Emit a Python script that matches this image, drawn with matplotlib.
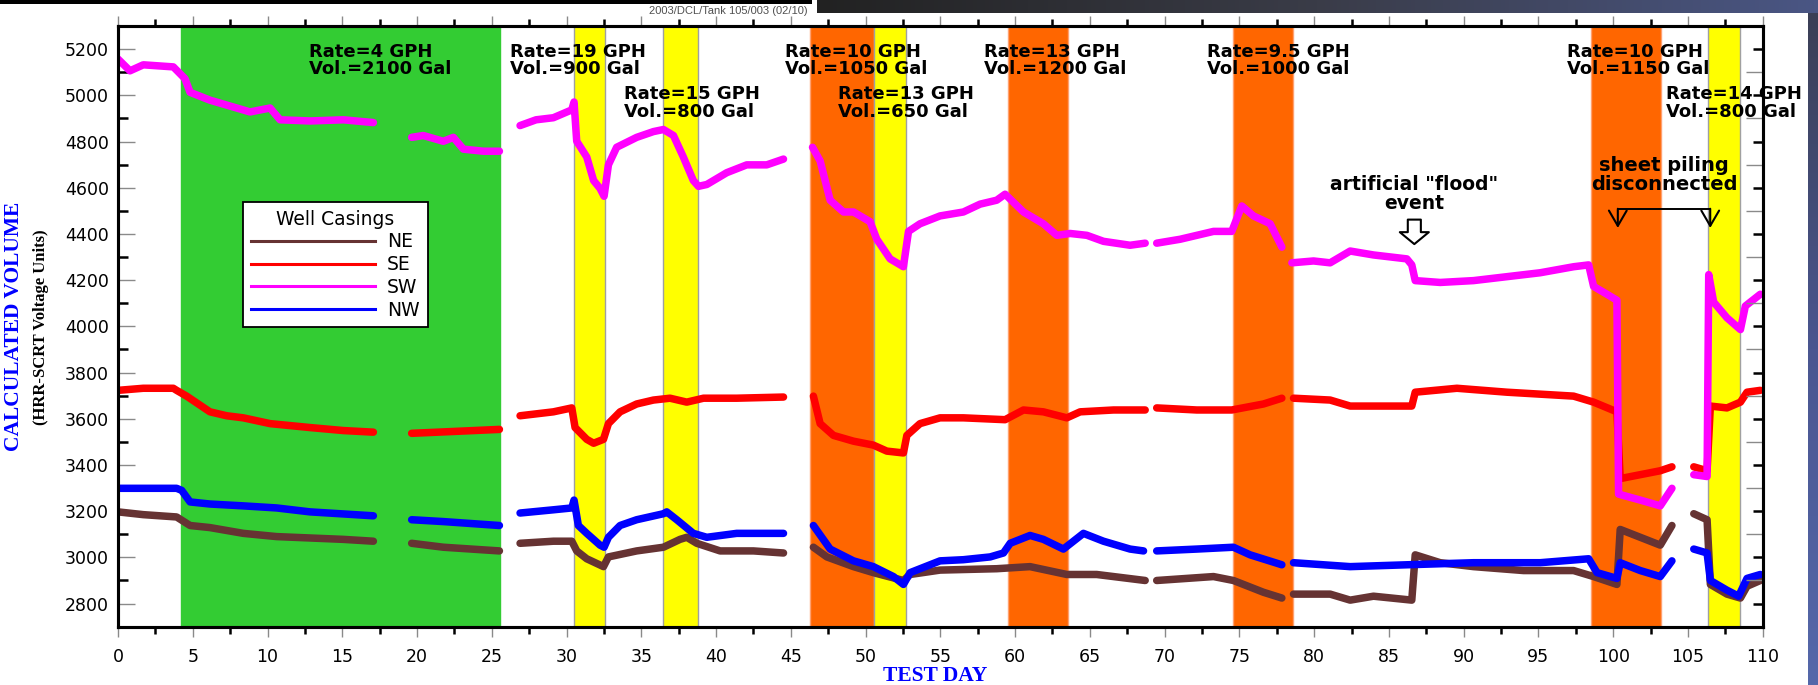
import numpy as np
import matplotlib
matplotlib.use("Agg")
import matplotlib.pyplot as plt
from matplotlib.lines import Line2D
from matplotlib.patches import Rectangle
from matplotlib.ticker import FixedLocator, NullFormatter
from matplotlib.colors import LinearSegmentedColormap

nan = np.nan

# ---------------- data ----------------
ne_day = [0, 1.69, 3.92, 4.82, 6.15, 8.38, 10.61, 12.84, 15.07, 17.08, nan,
          19.64, 21.76, 25.51, nan,
          26.89, 29.12, 30.35, 30.68, 31.35, 32.47, 32.80, 34.69, 36.48, 37.59, 38.04, 38.71, 40.27, 42.50, 44.51, nan,
          46.51, 47.41, 49.19, 50.52, 52.53, 52.98, 54.98, 58.77, 61.00, 63.46, 65.46, 68.70, nan,
          69.47, 73.27, 74.60, 76.61, 77.84, nan,
          78.62, 81.07, 82.41, 83.97, 86.53, 86.76, 88.43, 90.66, 94.01, 97.35, 98.69, 100.25, 100.47, 101.81, 103.15, 103.93, nan,
          105.39, 106.28, 106.50, 107.61, 108.51, 108.95, 109.84]
ne_val = [3197, 3185, 3175, 3138, 3129, 3104, 3090, 3084, 3078, 3070, nan,
          3061, 3044, 3028, nan,
          3061, 3070, 3070, 3028, 2994, 2960, 3002, 3028, 3044, 3078, 3087, 3061, 3028, 3028, 3019, nan,
          3044, 3002, 2960, 2934, 2900, 2926, 2945, 2951, 2960, 2926, 2926, 2900, nan,
          2900, 2917, 2900, 2849, 2824, nan,
          2841, 2841, 2815, 2832, 2815, 3011, 2977, 2960, 2943, 2943, 2917, 2883, 3121, 3087, 3053, 3138, nan,
          3189, 3163, 2883, 2841, 2824, 2875, 2900]

se_day = [0, 1.69, 3.7, 3.92, 4.59, 6.15, 7.27, 8.38, 10.17, 12.84, 15.07, 17.08, nan,
          19.64, 22.43, 25.51, nan,
          26.89, 29.12, 30.35, 30.57, 31.35, 31.81, 32.47, 32.80, 33.58, 34.69, 35.81, 36.92, 38.04, 39.16, 41.38, 44.51, nan,
          46.51, 46.96, 47.85, 49.19, 50.52, 51.42, 52.53, 52.76, 53.64, 54.98, 56.54, 59.33, 60.56, 61.89, 63.46, 64.35, 66.58, 68.70, nan,
          69.47, 72.15, 74.49, 76.61, 77.84, nan,
          78.62, 81.07, 82.41, 83.97, 86.53, 86.76, 89.55, 92.89, 97.35, 98.69, 100.25, 100.47, 101.81, 103.15, 103.93, nan,
          105.39, 106.28, 106.50, 107.61, 108.51, 108.95, 109.84]
se_val = [3723, 3732, 3732, 3723, 3698, 3630, 3613, 3604, 3579, 3562, 3549, 3542, nan,
          3537, 3545, 3554, nan,
          3613, 3630, 3647, 3562, 3511, 3494, 3511, 3579, 3630, 3664, 3681, 3689, 3672, 3689, 3689, 3694, nan,
          3698, 3579, 3528, 3503, 3486, 3460, 3452, 3528, 3579, 3604, 3604, 3596, 3638, 3630, 3604, 3630, 3638, 3638, nan,
          3647, 3638, 3638, 3664, 3689, nan,
          3689, 3681, 3655, 3655, 3655, 3715, 3732, 3715, 3698, 3672, 3630, 3341, 3358, 3375, 3392, nan,
          3392, 3375, 3655, 3647, 3672, 3715, 3723]

sw_day = [0, 0.8, 1.69, 3.7, 4.48, 4.82, 6.15, 7.94, 8.83, 10.17, 10.84, 12.84, 15.07, 17.08, nan,
          19.64, 20.42, 21.76, 22.43, 23.10, 24.44, 25.51, nan,
          26.89, 27.96, 29.12, 30.35, 30.50, 30.68, 31.35, 31.81, 32.24, 32.51, 32.80, 33.35, 34.69, 35.81, 36.48, 37.15, 37.81, 38.48, 38.82, 39.38, 40.71, 42.05, 43.39, 44.51, nan,
          46.45, 46.96, 47.63, 48.52, 49.19, 50.30, 50.75, 51.64, 52.53, 52.87, 53.64, 54.98, 56.54, 57.66, 58.77, 59.33, 60.56, 61.89, 62.79, 63.68, 64.80, 65.91, 67.69, 68.70, nan,
          69.47, 71.04, 73.27, 74.49, 75.16, 75.94, 77.06, 77.84, nan,
          78.51, 79.96, 81.07, 82.41, 83.97, 86.20, 86.53, 86.76, 88.43, 90.66, 92.89, 95.12, 97.35, 98.36, 98.69, 99.58, 100.25, 100.36, 101.81, 103.15, 103.93, nan,
          105.39, 106.28, 106.39, 106.72, 107.61, 108.51, 108.84, 109.84]
sw_val = [5157, 5106, 5132, 5123, 5072, 5013, 4979, 4945, 4928, 4945, 4894, 4889, 4894, 4882, nan,
          4818, 4826, 4801, 4818, 4767, 4758, 4758, nan,
          4869, 4894, 4903, 4937, 4971, 4801, 4733, 4631, 4597, 4563, 4699, 4775, 4818, 4843, 4852, 4826, 4733, 4631, 4606, 4614, 4665, 4699, 4699, 4724, nan,
          4775, 4716, 4546, 4495, 4495, 4453, 4377, 4292, 4258, 4411, 4444, 4478, 4495, 4529, 4546, 4572, 4495, 4444, 4394, 4402, 4394, 4368, 4351, 4360, nan,
          4360, 4377, 4411, 4411, 4521, 4478, 4444, 4343, nan,
          4275, 4283, 4275, 4326, 4309, 4292, 4266, 4198, 4190, 4198, 4215, 4232, 4258, 4266, 4173, 4139, 4113, 3274, 3248, 3223, 3299, nan,
          3358, 3350, 4224, 4105, 4037, 3986, 4088, 4139]

nw_day = [0, 3.92, 4.26, 4.82, 6.15, 8.38, 10.61, 12.84, 17.08, nan,
          19.64, 21.76, 25.51, nan,
          26.89, 29.12, 30.35, 30.50, 30.79, 31.35, 32.24, 32.51, 32.80, 33.58, 34.69, 36.48, 36.70, 37.37, 38.48, 39.38, 41.38, 44.51, nan,
          46.51, 47.63, 49.19, 50.52, 51.86, 52.53, 52.98, 54.98, 56.54, 58.33, 59.22, 59.67, 61.00, 61.89, 63.23, 64.57, 65.91, 67.69, 68.59, nan,
          69.47, 72.15, 74.60, 75.72, 77.84, nan,
          78.62, 82.41, 86.20, 90.66, 95.12, 98.36, 98.92, 100.25, 100.47, 101.81, 103.15, 103.93, nan,
          105.39, 106.28, 106.50, 107.61, 108.39, 108.95, 109.84]
nw_val = [3299, 3299, 3290, 3240, 3231, 3223, 3214, 3197, 3180, nan,
          3163, 3155, 3138, nan,
          3192, 3206, 3214, 3248, 3138, 3104, 3053, 3044, 3087, 3138, 3163, 3189, 3197, 3163, 3104, 3087, 3104, 3104, nan,
          3138, 3036, 2985, 2960, 2917, 2883, 2934, 2985, 2990, 3002, 3019, 3061, 3095, 3078, 3036, 3104, 3070, 3036, 3028, nan,
          3028, 3036, 3044, 3011, 2968, nan,
          2977, 2960, 2968, 2977, 2977, 2994, 2934, 2909, 2977, 2943, 2917, 2985, nan,
          3036, 3019, 2900, 2858, 2832, 2909, 2926]

series_names = ["NE", "SE", "SW", "NW"]
series_colors = ["#663333", "#FF0000", "#FF00FF", "#0000FF"]

# shaded leak periods (start day, end day, kind)
span_start = [4.21, 30.48, 36.48, 46.25, 50.57, 59.53, 74.56, 98.53, 106.37]
span_end = [25.55, 32.54, 38.78, 50.57, 52.73, 63.54, 78.58, 103.17, 108.50]
span_kind = ["green", "yellow", "yellow", "orange", "yellow", "orange", "orange", "orange", "yellow"]

rate_labels = ["Rate=4 GPH\nVol.=2100 Gal", "Rate=19 GPH\nVol.=900 Gal", "Rate=15 GPH\nVol.=800 Gal",
               "Rate=10 GPH\nVol.=1050 Gal", "Rate=13 GPH\nVol.=650 Gal", "Rate=13 GPH\nVol.=1200 Gal",
               "Rate=9.5 GPH\nVol.=1000 Gal", "Rate=10 GPH\nVol.=1150 Gal", "Rate=14 GPH\nVol.=800 Gal"]
rate_day = [12.80, 26.21, 33.87, 44.62, 48.18, 57.93, 72.82, 96.90, 103.52]
rate_row = [0, 0, 1, 0, 1, 0, 0, 0, 1]

x_major = list(range(0, 111, 5))
y_major = list(range(2800, 5201, 200))

# ---------------- figure ----------------
W, H = 1818, 685
fig = plt.figure(figsize=(W / 100, H / 100), dpi=100)
fig.patch.set_facecolor("white")
L, R, T, B = 118, 1762.7, 26.0, 626.7
ax = fig.add_axes([L / W, 1 - B / H, (R - L) / W, (B - T) / H])
ax.set_xlim(0, 110)
ax.set_ylim(2700, 5300)

span_fc = {"green": "#33CC33", "yellow": "#FFFF00", "orange": "#FF6600"}
span_ec = {"green": "#33CC33", "yellow": "#A0A0A0", "orange": "#FFA070"}
for s, e, k in zip(span_start, span_end, span_kind):
    ax.axvspan(s, e, facecolor=span_fc[k], edgecolor=span_ec[k], linewidth=1.0, zorder=0.5)

series = [(ne_day, ne_val), (se_day, se_val), (sw_day, sw_val), (nw_day, nw_val)]
for (d, v), c in zip(series, series_colors):
    ax.plot(d, v, color=c, lw=5.4, solid_joinstyle="round", solid_capstyle="round", zorder=2)

# legend
handles = [Line2D([], [], color=c, lw=2.2) for c in series_colors]
leg = ax.legend(handles, series_names, title="Well Casings", loc="upper left",
                bbox_to_anchor=((243.3 - L) / (R - L), (B - 201.7) / (B - T)), borderaxespad=0,
                prop={"family": "DejaVu Sans", "size": 13.5},
                title_fontproperties={"family": "DejaVu Sans", "size": 13.5},
                handlelength=6.6, handletextpad=0.65, labelspacing=0.2, borderpad=0.42,
                fancybox=False, framealpha=1, edgecolor="black")
leg.get_frame().set_linewidth(1.3)
leg.set_zorder(6)

# annotations
row_val = [5151, 4967]
for txt, d, r in zip(rate_labels, rate_day, rate_row):
    ax.text(d, row_val[r], txt, ha="left", va="center", fontsize=13, fontweight="bold",
            family="DejaVu Sans", linespacing=0.98, zorder=5, clip_on=False)

ax.text(86.69, 4574, 'artificial "flood"\nevent', ha="center", va="center", fontsize=13.5,
        fontweight="bold", family="DejaVu Sans", linespacing=0.98, zorder=5)
ax.annotate("", xy=(86.7, 4356), xytext=(86.7, 4462),
            arrowprops=dict(arrowstyle="simple,head_length=0.86,head_width=2.09,tail_width=0.94",
                            mutation_scale=10, fc="white", ec="black", lw=1.5, shrinkA=0, shrinkB=0),
            zorder=5)

ax.text(103.41, 4655, "sheet piling\ndisconnected", ha="center", va="center", fontsize=14,
        fontweight="bold", family="DejaVu Sans", linespacing=0.98, zorder=5)
ax.plot([100.31, 106.49], [4507, 4507], color="black", lw=1.4, zorder=5, solid_capstyle="butt")
for xd in (100.31, 106.49):
    ax.annotate("", xy=(xd, 4426), xytext=(xd, 4509),
                arrowprops=dict(arrowstyle="->,head_length=0.55,head_width=0.32", mutation_scale=20,
                                color="black", lw=1.5, shrinkA=0, shrinkB=0), zorder=5)

# axes / ticks
for sp in ax.spines.values():
    sp.set_linewidth(2.2)
    sp.set_zorder(7)
ax.xaxis.set_major_locator(FixedLocator(x_major))
ax.xaxis.set_minor_locator(FixedLocator([x + 2.5 for x in x_major[:-1]]))
ax.yaxis.set_major_locator(FixedLocator(y_major))
ax.yaxis.set_minor_locator(FixedLocator([y + 100 for y in y_major] + [2700]))
ax.set_xticklabels([str(x) for x in x_major])
ax.set_yticklabels([str(y) for y in y_major])
ax.tick_params(axis="x", which="major", bottom=True, top=True, direction="out", length=7.5,
               width=1.0, color="#8A8A8A", pad=8, labelsize=12.5, labelfontfamily="DejaVu Sans")
ax.tick_params(axis="x", which="minor", bottom=True, top=True, direction="out", length=5,
               width=1.8, color="black")
ax.tick_params(axis="y", which="major", left=True, right=False, direction="in", length=12,
               width=1.0, color="#8A8A8A", pad=6.5, labelsize=12.5, labelfontfamily="DejaVu Sans")
ax.tick_params(axis="y", which="minor", left=True, right=False, direction="in", length=7,
               width=1.8, color="black")

ax2 = ax.twinx()
ax2.set_ylim(2700, 5300)
ax2.yaxis.set_major_locator(FixedLocator([y + 100 for y in y_major]))
ax2.yaxis.set_minor_locator(FixedLocator(y_major))
ax2.yaxis.set_major_formatter(NullFormatter())
ax2.tick_params(axis="y", which="major", right=True, direction="in", length=12, width=1.0,
                color="#8A8A8A", labelright=False)
ax2.tick_params(axis="y", which="minor", right=True, direction="in", length=7, width=1.8,
                color="black")
for sp in ax2.spines.values():
    sp.set_linewidth(2.2)

# axis titles
fig.text(14 / W, 1 - 326 / H, "CALCULATED VOLUME", rotation=90, ha="center", va="center",
         fontsize=15.5, fontweight="bold", family="Liberation Serif", color="#0000FF")
fig.text(41 / W, 1 - 327 / H, "(HRR-SCRT Voltage Units)", rotation=90, ha="center", va="center",
         fontsize=12, fontweight="bold", family="Liberation Serif", color="black")
fig.text(935.6 / W, 1 - 676 / H, "TEST DAY", ha="center", va="center",
         fontsize=15.5, fontweight="bold", family="Liberation Serif", color="#0000FF")

# page decoration around the chart (screenshot frame)
fig.patches.append(Rectangle((0, 1 - 4 / H), 812 / W, 4 / H, transform=fig.transFigure,
                             facecolor="black", edgecolor="none", zorder=10))
fig.text(808 / W, 1 - 11 / H, "2003/DCL/Tank 105/003 (02/10)", ha="right", va="center",
         fontsize=8, family="Liberation Sans", color="#505050")
top_bar = fig.add_axes([817 / W, 1 - 12.7 / H, 1 - 817 / W, 12.7 / H])
top_bar.imshow(np.linspace(0, 1, 256)[None, :], aspect="auto",
               cmap=LinearSegmentedColormap.from_list("tb", ["#222222", "#3a3c48", "#4a5684"]))
top_bar.axis("off")
side_bar = fig.add_axes([1808 / W, 0, 10 / W, 1 - 12.7 / H])
side_bar.imshow(np.linspace(0, 1, 256)[:, None], aspect="auto",
                cmap=LinearSegmentedColormap.from_list("sb", ["#3b3f55", "#4a5690", "#5568aa"]))
side_bar.axis("off")

fig.savefig("out.png", dpi=100, facecolor="white")
